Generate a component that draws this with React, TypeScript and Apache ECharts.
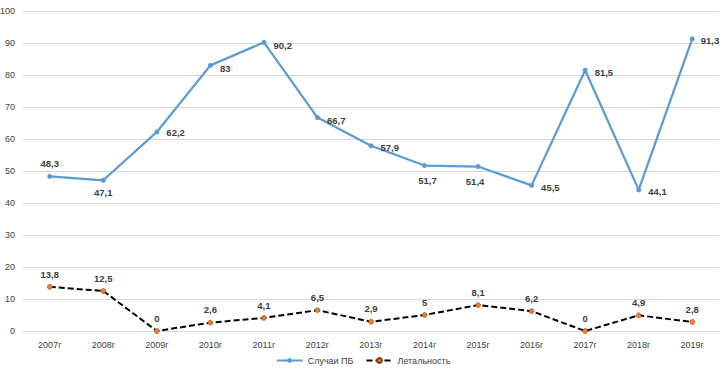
import React, { useEffect, useRef } from "react";
import * as echarts from "echarts";

const years = ["2007г", "2008г", "2009г", "2010г", "2011г", "2012г", "2013г", "2014г", "2015г", "2016г", "2017г", "2018г", "2019г"];
const cases = [48.3, 47.1, 62.2, 83, 90.2, 66.7, 57.9, 51.7, 51.4, 45.5, 81.5, 44.1, 91.3];
const lethality = [13.8, 12.5, 0, 2.6, 4.1, 6.5, 2.9, 5, 8.1, 6.2, 0, 4.9, 2.8];

const fmt = (v: number) => String(v).replace(".", ",");

const caseLabels: any[] = [
  { position: "top", offset: [0, 0] },
  { position: "bottom", offset: [0, 0] },
  { position: "right", offset: [2, 1] },
  { position: "right", offset: [2, 3] },
  { position: "right", offset: [2, 3] },
  { position: "right", offset: [2, 3] },
  { position: "right", offset: [2, 2] },
  { position: "bottom", offset: [3, 2] },
  { position: "bottom", offset: [-3, 2] },
  { position: "right", offset: [2, 2] },
  { position: "right", offset: [2, 2] },
  { position: "right", offset: [2, 2] },
  { position: "right", offset: [1, 2] },
];

export default function App() {
  const ref = useRef<HTMLDivElement>(null);
  useEffect(() => {
    const chart = echarts.init(ref.current!, null, { renderer: "svg" });
    const labelBase = {
      show: true,
      color: "#404040",
      fontWeight: "bold" as const,
      fontSize: 9.5,
      fontFamily: "Liberation Sans",
      formatter: (p: any) => fmt(p.value),
    };
    chart.setOption({
      animation: false,
      backgroundColor: "#ffffff",
      grid: { left: 23, right: 7, top: 11, bottom: 45, containLabel: false, outerBoundsMode: "none" },
      legend: {
        bottom: 6,
        left: "center",
        itemWidth: 26,
        itemHeight: 6,
        itemGap: 12,
        textStyle: { color: "#404040", fontSize: 9, fontFamily: "Liberation Sans" },
        data: ["Случаи ПБ", "Летальность"],
      },
      xAxis: {
        type: "category",
        data: years,
        boundaryGap: true,
        axisLine: { show: true, lineStyle: { color: "#d9d9d9" } },
        axisTick: { show: false },
        axisLabel: { color: "#404040", fontSize: 9, fontFamily: "Liberation Sans", margin: 9 },
      },
      yAxis: {
        type: "value",
        min: 0,
        max: 100,
        interval: 10,
        axisLine: { show: false },
        axisTick: { show: false },
        axisLabel: { color: "#404040", fontSize: 9, fontFamily: "Liberation Sans", margin: 8 },
        splitLine: { lineStyle: { color: "#d9d9d9", width: 1 } },
      },
      series: [
        {
          name: "Случаи ПБ",
          type: "line",
          data: cases.map((v, i) => ({ value: v, label: caseLabels[i] })),
          symbol: "circle",
          symbolSize: 5,
          lineStyle: { color: "#5b9bd5", width: 2.25 },
          itemStyle: { color: "#5b9bd5" },
          label: labelBase,
        },
        {
          name: "Летальность",
          type: "line",
          data: lethality,
          symbol: "circle",
          symbolSize: 5,
          lineStyle: { color: "#000000", width: 2, type: [6, 3] },
          itemStyle: { color: "#ed7d31", borderColor: "#7f3f10", borderWidth: 0.5 },
          label: { ...labelBase, position: "top" },
        },
      ],
    });
    return () => chart.dispose();
  }, []);
  return <div ref={ref} style={{ position: "absolute", left: 0, top: 0, width: 726, height: 376 }} />;
}
